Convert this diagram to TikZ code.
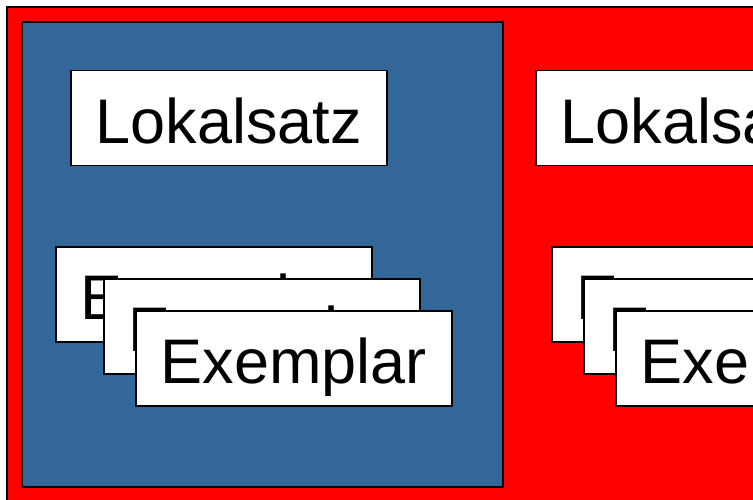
\documentclass[tikz,border=0pt]{standalone}
\usepackage{fontspec}
\setmainfont{Liberation Sans}
\definecolor{bibblau}{RGB}{52,103,153}
\tikzset{
    kasten/.style={draw, line width=1.5pt, fill=white, anchor=north west,
        minimum width=316pt, minimum height=95pt, inner sep=0pt,
        text height=51pt, text depth=0pt,
        font=\fontsize{63}{63}\selectfont}
}
\begin{document}
\begin{tikzpicture}[x=1pt, y=-1pt]
            \clip (0,0) rectangle (753,500);
            \path[draw, line width=1.5pt, fill=red] (7,7) rectangle (820,530);
            \path[draw, line width=1.5pt, fill=bibblau] (22,22) rectangle (503,487);
            \node[kasten] (lokal1) at (70,70) {Lokalsatz};
            \node[kasten] (exA1) at (55,246) {Exemplar};
            \node[kasten] (exA2) at (103,278) {Exemplar};
            \node[kasten] (exA3) at (135,310) {Exemplar};
            \node[kasten] (lokal2) at (535,70) {Lokalsatz};
            \node[kasten] (exB1) at (551,246) {Exemplar};
            \node[kasten] (exB2) at (583,278) {Exemplar};
            \node[kasten] (exB3) at (615,310) {Exemplar};
        \end{tikzpicture}
\end{document}
